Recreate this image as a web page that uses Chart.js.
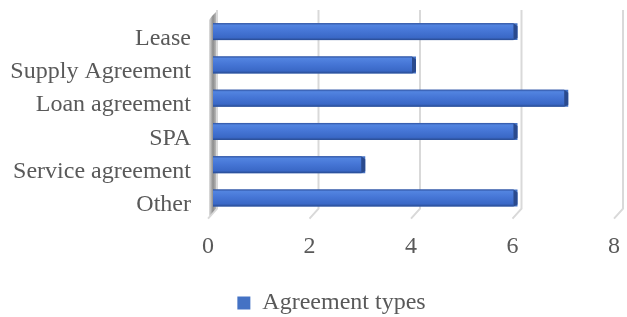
<!DOCTYPE html>
<html>
<head>
<meta charset="utf-8">
<script src="https://cdn.jsdelivr.net/npm/chart.js@4.4.1/dist/chart.umd.min.js"></script>
<style>
  html, body { margin: 0; padding: 0; background: #fff; }
  #wrap { width: 627px; height: 317px; }
</style>
</head>
<body>
<div id="wrap"><canvas id="agreementChart"></canvas></div>
<script>
// data
const categories = ['Lease', 'Supply Agreement', 'Loan agreement', 'SPA', 'Service agreement', 'Other'];
const values = [6, 4, 7, 6, 3, 6];
const xTicks = [0, 2, 4, 6, 8];
const seriesName = 'Agreement types';

const textColor = '#595959';
const fontFamily = "'Liberation Serif', 'Times New Roman', serif";

// back wall + gridlines with a small 3D foot, like the Excel original
const wall3d = {
    id: 'wall3d',
    beforeDatasetsDraw(chart) {
        const { ctx, chartArea } = chart;
        const xs = chart.scales.x;
        const top = chartArea.top - 5;
        const bottom = chartArea.bottom - 6;
        ctx.save();
        ctx.strokeStyle = '#d9d9d9';
        ctx.lineWidth = 2;
        xTicks.forEach(v => {
            const px = xs.getPixelForValue(v);
            ctx.beginPath();
            ctx.moveTo(px + 4, top);
            ctx.lineTo(px + 4, bottom);
            ctx.lineTo(px - 5, bottom + 10);
            ctx.stroke();
        });
        // side wall on the left
        const x0 = xs.getPixelForValue(0);
        const g = ctx.createLinearGradient(x0 - 4, 0, x0 + 4, 0);
        g.addColorStop(0, '#e0e0e0');
        g.addColorStop(0.5, '#8c8c8c');
        g.addColorStop(1, '#c8c8c8');
        ctx.fillStyle = g;
        ctx.beginPath();
        ctx.moveTo(x0 - 1, top + 6);
        ctx.lineTo(x0 + 3, top + 2);
        ctx.lineTo(x0 + 3, bottom);
        ctx.lineTo(x0 - 4, bottom + 8);
        ctx.lineTo(x0 - 4, top + 10);
        ctx.closePath();
        ctx.fill();
        ctx.restore();
    },
    // value labels of the x axis, set on the front edge of the floor
    afterDraw(chart) {
        const { ctx, chartArea } = chart;
        const xs = chart.scales.x;
        ctx.save();
        ctx.fillStyle = textColor;
        ctx.font = '24px ' + fontFamily;
        ctx.textAlign = 'center';
        ctx.textBaseline = 'top';
        xTicks.forEach(v => {
            ctx.fillText(String(v), xs.getPixelForValue(v) - 5, chartArea.bottom + 20.5);
        });
        ctx.restore();
    }
};

// shading and end bevel on each bar
const bar3d = {
    id: 'bar3d',
    afterDatasetsDraw(chart) {
        const { ctx } = chart;
        const meta = chart.getDatasetMeta(0);
        ctx.save();
        meta.data.forEach(el => {
            const p = el.getProps(['x', 'y', 'base', 'height'], true);
            const t = p.y - p.height / 2;
            const b = p.y + p.height / 2;
            const right = p.x - 4;
            const g = ctx.createLinearGradient(0, t, 0, b);
            g.addColorStop(0, '#2f52a0');
            g.addColorStop(0.12, '#5284e0');
            g.addColorStop(0.45, '#4676d6');
            g.addColorStop(0.85, '#3a68c6');
            g.addColorStop(1, '#284a90');
            ctx.fillStyle = g;
            ctx.fillRect(p.base, t, right - p.base, b - t);
            ctx.fillStyle = '#2a4a8e';
            ctx.beginPath();
            ctx.moveTo(right, t);
            ctx.lineTo(p.x, t + 3);
            ctx.lineTo(p.x, b - 2);
            ctx.lineTo(right, b);
            ctx.closePath();
            ctx.fill();
        });
        ctx.restore();
    }
};

// nudge the legend a little right and down, as in the original
const legendShift = {
    id: 'legendShift',
    afterLayout(chart) {
        const lg = chart.legend;
        lg.left += 22;
        lg.right += 22;
        lg.top += 8;
        lg.bottom += 8;
    }
};

const ctx = document.getElementById('agreementChart');
new Chart(ctx, {
    type: 'bar',
    data: {
        labels: categories,
        datasets: [{
            label: seriesName,
            data: values,
            backgroundColor: '#4472c4',
            barPercentage: 0.51,
            categoryPercentage: 1
        }]
    },
    options: {
        indexAxis: 'y',
        responsive: true,
        maintainAspectRatio: false,
        animation: false,
        layout: { padding: { top: 15, right: 8, left: 0, bottom: 0 } },
        scales: {
            x: {
                min: 0,
                max: 8,
                afterBuildTicks(scale) {
                    scale.ticks = xTicks.map(v => ({ value: v }));
                },
                afterFit(scale) {
                    scale.height = 64.4;
                    scale.paddingLeft = 0;
                    scale.paddingRight = 0;
                },
                grid: { display: false, drawTicks: false },
                border: { display: false },
                ticks: { display: false }
            },
            y: {
                afterFit(scale) {
                    scale.width = 213;
                    scale.paddingTop = 0;
                    scale.paddingBottom = 0;
                },
                grid: { display: false, drawTicks: false },
                border: { display: false },
                ticks: {
                    color: textColor,
                    padding: 22,
                    labelOffset: 7,
                    autoSkip: false,
                    font: { family: fontFamily, size: 24 }
                }
            }
        },
        plugins: {
            legend: {
                position: 'bottom',
                labels: {
                    color: textColor,
                    boxWidth: 13,
                    boxHeight: 13,
                    padding: 4,
                    font: { family: fontFamily, size: 24 }
                }
            },
            tooltip: { enabled: false }
        }
    },
    plugins: [wall3d, bar3d, legendShift]
});
</script>
</body>
</html>
